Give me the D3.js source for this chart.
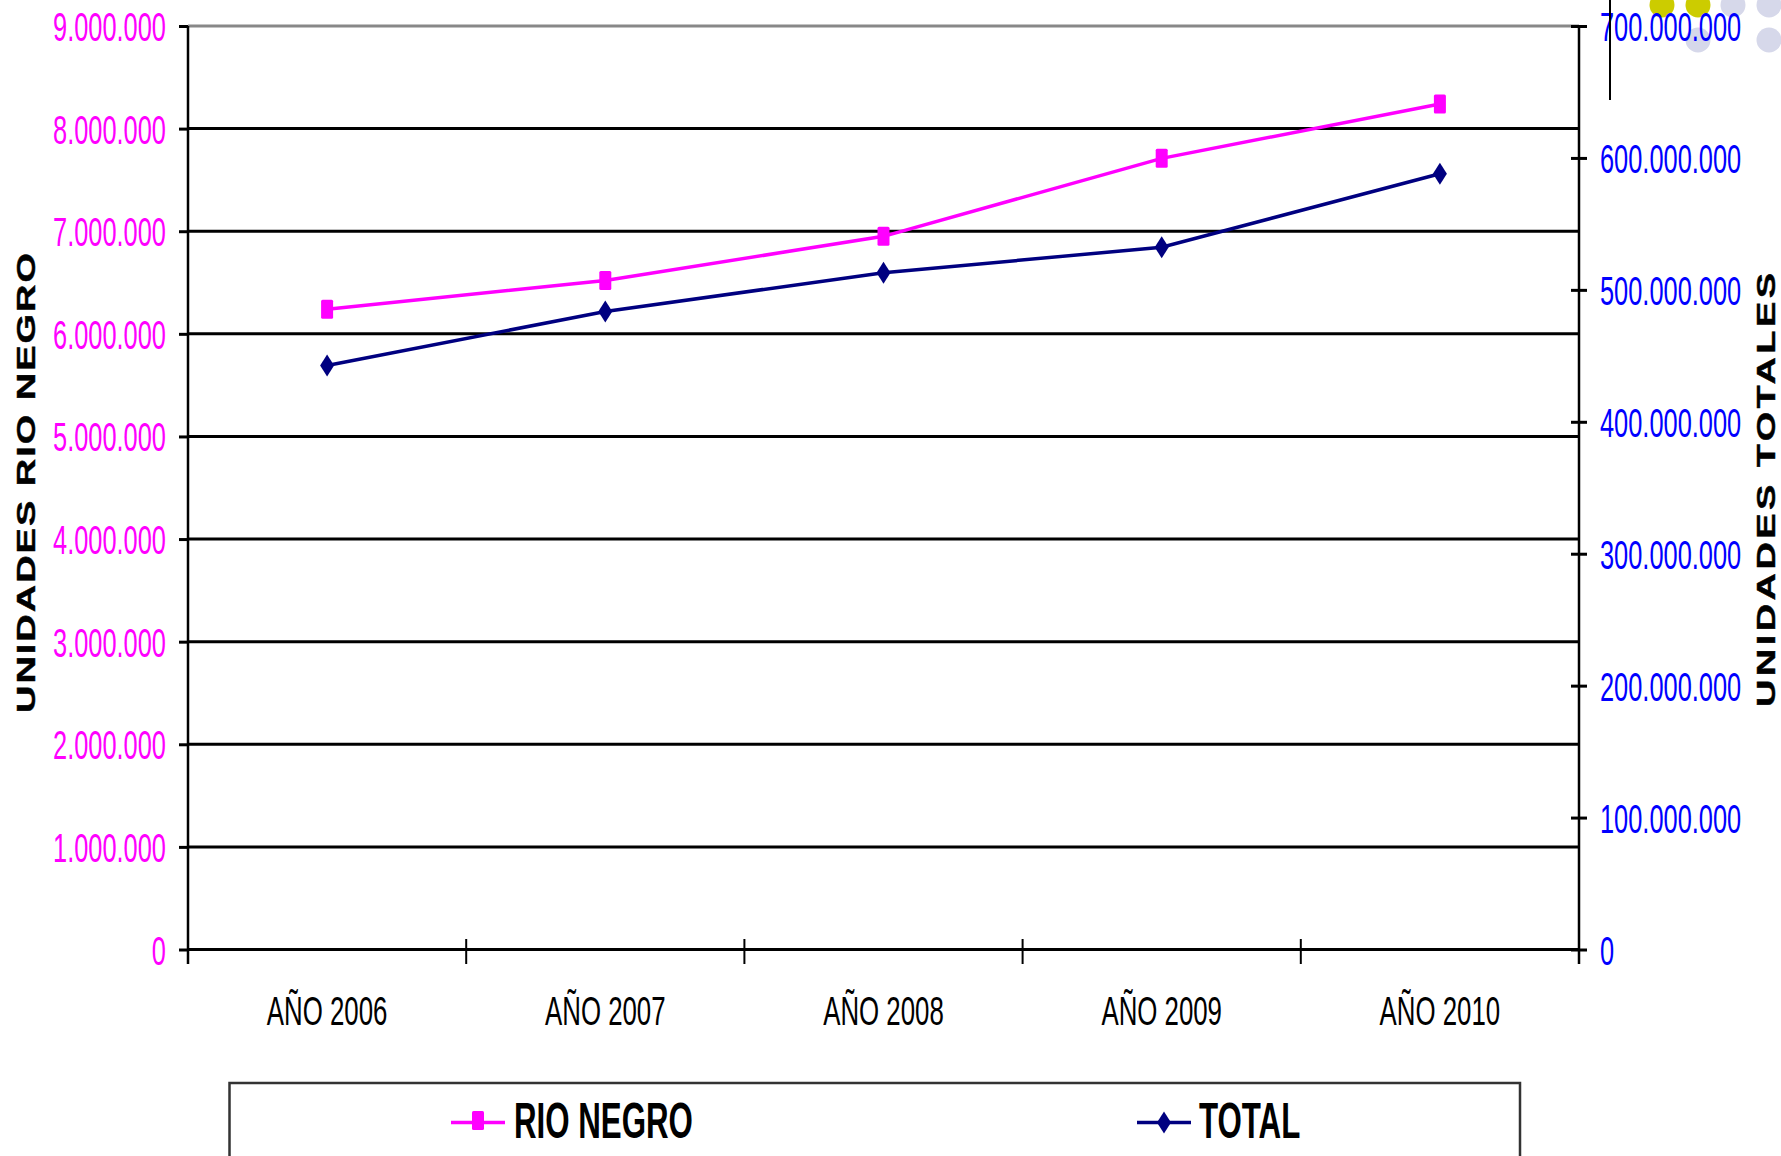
<!DOCTYPE html>
<html>
<head>
<meta charset="utf-8">
<script src="https://cdn.jsdelivr.net/npm/d3@7"></script>
<style>
  html, body { margin: 0; padding: 0; background: #fff; }
  svg { display: block; font-family: "Liberation Sans", Arial, sans-serif; }
</style>
</head>
<body>
<svg id="chart" width="1781" height="1156"></svg>
<script>
// Categories and series
const years = ["AÑO 2006", "AÑO 2007", "AÑO 2008", "AÑO 2009", "AÑO 2010"];
const rioNegro = [6240000, 6520000, 6950000, 7710000, 8240000];
const total = [442700000, 483600000, 513000000, 532300000, 588000000];

// Axis ticks
const leftTicks = [0, 1000000, 2000000, 3000000, 4000000, 5000000, 6000000, 7000000, 8000000, 9000000];
const rightTicks = [0, 100000000, 200000000, 300000000, 400000000, 500000000, 600000000, 700000000];

// Titles and legend labels
const leftTitle = "UNIDADES RIO NEGRO";
const rightTitle = "UNIDADES TOTALES";
const seriesNames = ["RIO NEGRO", "TOTAL"];

const PINK = "#ff00ff", NAVY = "#000080", BLUE = "#0000ff";
const NARROW = 0.635; // horizontal squeeze of the condensed labels

const svg = d3.select("#chart");
const fmt = d3.formatLocale({ decimal: ",", thousands: ".", grouping: [3], currency: ["", ""] }).format(",d");

const plot = { left: 188, right: 1579, top: 26, bottom: 949.5 };

const x = d3.scaleBand().domain(years).range([plot.left, plot.right]).padding(0);
const yL = d3.scaleLinear().domain([0, 9000000]).range([plot.bottom, plot.top]);
const yR = d3.scaleLinear().domain([0, 700000000]).range([plot.bottom, plot.top]);

// Decorative dots in the top right corner
const dots = [
  { cx: 1662, cy: 5, c: "#cccc00" },
  { cx: 1698, cy: 5, c: "#cccc00" },
  { cx: 1733, cy: 5, c: "#d6d8ea" },
  { cx: 1769, cy: 5, c: "#d6d8ea" },
  { cx: 1698, cy: 40, c: "#d6d8ea" },
  { cx: 1769, cy: 40, c: "#d6d8ea" }
];
svg.append("g").selectAll("circle").data(dots).join("circle")
  .attr("cx", d => d.cx).attr("cy", d => d.cy).attr("r", 12.5).attr("fill", d => d.c);

// Horizontal gridlines on the left scale
svg.append("g").selectAll("line").data(leftTicks.filter(v => v > 0)).join("line")
  .attr("x1", plot.left).attr("x2", plot.right)
  .attr("y1", d => yL(d)).attr("y2", d => yL(d))
  .attr("stroke", d => d === 9000000 ? "#888" : "#000")
  .attr("stroke-width", 3);

// Left axis
const gL = svg.append("g").attr("transform", `translate(${plot.left},0)`)
  .call(d3.axisLeft(yL).tickValues(leftTicks).tickFormat(fmt).tickSize(9).tickPadding(13));
gL.select(".domain").remove();
gL.selectAll(".tick line").attr("stroke", "#000").attr("stroke-width", 3);
gL.selectAll(".tick text")
  .attr("x", -22 / NARROW).attr("dy", 14.5)
  .attr("transform", `scale(${NARROW},1)`)
  .attr("fill", PINK).attr("font-size", 40)
  .attr("font-family", "Liberation Sans, Arial, sans-serif");
svg.append("line").attr("x1", plot.left).attr("x2", plot.left).attr("y1", plot.top).attr("y2", 964)
  .attr("stroke", "#000").attr("stroke-width", 2.5);

// Right axis
const gR = svg.append("g").attr("transform", `translate(${plot.right},0)`)
  .call(d3.axisRight(yR).tickValues(rightTicks).tickFormat(fmt).tickSize(8).tickPadding(13));
gR.select(".domain").remove();
gR.selectAll(".tick line").attr("x1", -8).attr("stroke", "#000").attr("stroke-width", 3);
gR.selectAll(".tick text")
  .attr("x", 21 / NARROW).attr("dy", 14.5)
  .attr("transform", `scale(${NARROW},1)`)
  .attr("fill", BLUE).attr("font-size", 40)
  .attr("font-family", "Liberation Sans, Arial, sans-serif");
svg.append("line").attr("x1", plot.right).attr("x2", plot.right).attr("y1", plot.top).attr("y2", 964)
  .attr("stroke", "#000").attr("stroke-width", 2.5);

// Bottom category axis
svg.append("line").attr("x1", plot.left).attr("x2", plot.right).attr("y1", plot.bottom).attr("y2", plot.bottom)
  .attr("stroke", "#000").attr("stroke-width", 3);
const bounds = years.map(d => x(d)).concat([plot.right]);
svg.append("g").selectAll("line").data(bounds).join("line")
  .attr("x1", d => d).attr("x2", d => d).attr("y1", 939).attr("y2", 964)
  .attr("stroke", "#000").attr("stroke-width", 2);
svg.append("g").selectAll("text").data(years).join("text")
  .attr("transform", d => `translate(${x(d) + x.bandwidth() / 2},1025) scale(0.63,1)`)
  .attr("text-anchor", "middle").attr("font-size", 41).attr("fill", "#000")
  .text(d => d);

// Stray vertical rule at the top right
svg.append("line").attr("x1", 1610).attr("x2", 1610).attr("y1", 0).attr("y2", 100)
  .attr("stroke", "#000").attr("stroke-width", 2);

// Axis titles: bold, rotated, then squeezed across the page like the other labels
[
  { text: leftTitle, tx: 35, ty: 483, len: 460 },
  { text: rightTitle, tx: 1775, ty: 490, len: 434 }
].forEach(t => {
  svg.append("text").attr("transform", `translate(${t.tx},${t.ty}) scale(0.68,1) rotate(-90)`)
    .attr("text-anchor", "middle").attr("font-size", 38).attr("font-weight", "bold")
    .attr("stroke", "#000").attr("stroke-width", 0.6)
    .attr("textLength", t.len).attr("lengthAdjust", "spacing")
    .text(t.text);
});

// Series lines
const cx = (d, i) => x(years[i]) + x.bandwidth() / 2;
svg.append("path").datum(total)
  .attr("d", d3.line().x(cx).y(d => yR(d)))
  .attr("fill", "none").attr("stroke", NAVY).attr("stroke-width", 3.5);
svg.append("path").datum(rioNegro)
  .attr("d", d3.line().x(cx).y(d => yL(d)))
  .attr("fill", "none").attr("stroke", PINK).attr("stroke-width", 3.5);

// Markers
const diamond = (w, h) => `M0,${-h / 2}L${w / 2},0L0,${h / 2}L${-w / 2},0Z`;
svg.append("g").selectAll("path").data(total).join("path")
  .attr("transform", (d, i) => `translate(${cx(d, i)},${yR(d)})`)
  .attr("d", diamond(14, 22)).attr("fill", NAVY);
svg.append("g").selectAll("rect").data(rioNegro).join("rect")
  .attr("x", (d, i) => cx(d, i) - 6).attr("y", d => yL(d) - 9.5)
  .attr("width", 12).attr("height", 19).attr("rx", 1.5).attr("fill", PINK);

// Legend
svg.append("rect").attr("x", 229.5).attr("y", 1083).attr("width", 1290.5).attr("height", 120)
  .attr("fill", "#fff").attr("stroke", "#333").attr("stroke-width", 2.5);
const legend = [
  { name: seriesNames[0], color: PINK, x0: 451, x1: 505, tx: 514 },
  { name: seriesNames[1], color: NAVY, x0: 1137, x1: 1191, tx: 1199 }
];
const lg = svg.append("g").selectAll("g").data(legend).join("g");
lg.append("line").attr("x1", d => d.x0).attr("x2", d => d.x1).attr("y1", 1122.5).attr("y2", 1122.5)
  .attr("stroke", d => d.color).attr("stroke-width", 3.5);
lg.filter((d, i) => i === 0).append("rect")
  .attr("x", d => (d.x0 + d.x1) / 2 - 6).attr("y", 1111).attr("width", 12).attr("height", 19)
  .attr("rx", 1.5).attr("fill", d => d.color);
lg.filter((d, i) => i === 1).append("path")
  .attr("transform", d => `translate(${(d.x0 + d.x1) / 2},1122.5)`)
  .attr("d", diamond(14, 22)).attr("fill", d => d.color);
lg.append("text")
  .attr("transform", d => `translate(${d.tx},1138) scale(0.625,1)`)
  .attr("font-size", 50).attr("font-weight", "bold").attr("fill", "#000")
  .text(d => d.name);
</script>
</body>
</html>
